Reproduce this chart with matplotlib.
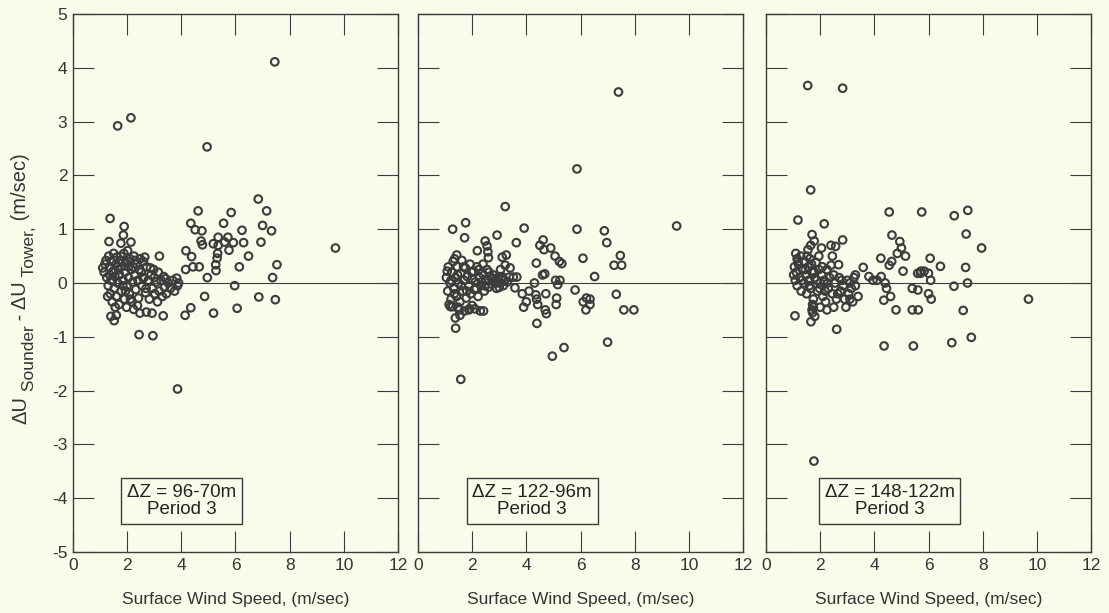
import matplotlib.pyplot as plt
from matplotlib.transforms import IdentityTransform

plt.rcParams['font.family'] = ['Liberation Sans', 'DejaVu Sans']
plt.rcParams['axes.unicode_minus'] = False

# ---------- data ----------
labels = ["\u0394Z = 96-70m\nPeriod 3", "\u0394Z = 122-96m\nPeriod 3", "\u0394Z = 148-122m\nPeriod 3"]
box_x = [4.0, 4.22, 4.57]

x1 = [7.45, 1.65, 2.14, 4.95, 9.69, 6.84, 7.15, 7.0, 7.33, 6.94, 7.53, 7.37, 6.86, 7.47,
      4.62, 4.35, 4.51, 4.76, 5.84, 5.56, 6.24, 5.72, 5.36, 4.73, 4.78, 5.18, 5.36, 5.60, 5.92, 6.30,
      5.76, 6.48, 4.17, 4.38, 4.43, 4.66, 4.16, 5.34, 5.32, 5.27, 5.28, 6.14, 4.96, 5.97, 4.86, 6.06,
      5.19, 4.35, 4.14, 3.83, 3.86,
      1.52, 1.40, 1.60, 2.24, 2.47, 2.71, 2.92, 3.33, 2.44, 2.95, 3.86,
      1.37, 1.89, 1.86, 1.33, 1.77, 2.14, 3.19,
      1.10, 1.15, 1.22, 1.25, 1.30, 1.32, 1.35, 1.38, 1.40, 1.42, 1.45, 1.48, 1.50, 1.52, 1.55, 1.58,
      1.60, 1.62, 1.65, 1.68, 1.70, 1.72, 1.75, 1.78, 1.80, 1.85, 1.88, 1.90, 1.92, 1.95, 2.00, 2.02,
      2.05, 2.08, 2.10, 2.15, 2.18, 2.20, 2.25, 2.28, 2.32, 2.35, 2.40, 2.42, 2.48, 2.52, 2.55, 2.60,
      2.62, 2.68, 2.72, 2.78, 2.82, 2.88, 2.92, 2.98, 3.02, 3.08, 3.12, 3.18, 3.25, 3.30, 3.38, 3.45,
      3.52, 3.60, 3.68, 3.35, 2.05, 1.98, 2.65, 2.38,
      1.18, 1.28, 1.36, 1.46, 1.56, 1.66, 1.76, 1.84, 1.94, 2.04, 2.12, 2.22, 2.30, 2.44, 2.58, 2.70,
      2.86, 3.00, 3.15, 3.42, 3.75, 3.90]
y1 = [4.11, 2.92, 3.07, 2.53, 0.65, 1.56, 1.34, 1.07, 0.97, 0.76, 0.34, 0.10, -0.26, -0.31,
      1.34, 1.11, 0.99, 0.97, 1.31, 1.11, 0.98, 0.85, 0.85, 0.78, 0.71, 0.73, 0.70, 0.76, 0.75, 0.75,
      0.61, 0.50, 0.60, 0.49, 0.30, 0.30, 0.25, 0.55, 0.46, 0.34, 0.23, 0.30, 0.10, -0.05, -0.25, -0.47,
      -0.56, -0.46, -0.60, 0.09, -0.05,
      -0.70, -0.62, -0.60, -0.49, -0.56, -0.54, -0.56, -0.61, -0.96, -0.98, -1.97,
      1.20, 1.05, 0.89, 0.77, 0.74, 0.76, 0.50,
      0.28, 0.20, 0.42, 0.10, -0.05, 0.50, 0.30, -0.20, 0.05, 0.40, -0.35, 0.22, 0.55, -0.10, 0.12, 0.35,
      -0.25, 0.48, 0.00, 0.25, -0.40, 0.15, 0.42, -0.15, 0.30, 0.05, 0.55, -0.30, 0.20, 0.38, -0.05, 0.60,
      0.10, -0.20, 0.45, 0.25, -0.35, 0.02, 0.50, 0.15, -0.12, 0.35, 0.05, -0.28, 0.45, 0.20, -0.05, 0.40,
      0.10, -0.18, 0.30, 0.05, -0.30, 0.15, -0.10, 0.25, -0.20, 0.02, -0.35, -0.15, 0.05, -0.25, -0.08, -0.20,
      0.00, -0.10, 0.05, 0.12, 0.30, -0.45, 0.48, -0.42,
      0.35, -0.25, 0.15, 0.05, -0.45, 0.30, 0.50, -0.05, -0.15, 0.40, -0.30, 0.30, 0.42, 0.25, 0.10, -0.10,
      0.28, 0.10, 0.20, 0.08, -0.15, 0.00]

x2 = [7.40, 5.87, 9.55, 3.22, 1.76, 1.28, 1.72, 3.92, 5.87, 6.88, 6.97, 2.92, 2.48, 2.55, 2.58, 2.60,
      2.19, 3.63, 4.62, 4.50, 4.65, 4.90, 5.06, 5.22, 5.31, 6.09, 7.24, 7.52, 7.47, 6.52, 7.32, 7.60,
      7.97, 4.37, 3.11, 3.22, 3.40, 4.68, 4.60, 3.37, 3.52, 3.65, 5.08, 5.24, 5.16, 5.80, 3.85, 4.10,
      3.58, 4.30, 4.35, 4.72, 4.42, 4.38, 5.10, 5.12, 6.10, 6.20, 6.22, 6.35, 6.35, 4.70, 1.39, 1.58,
      4.96, 5.39, 7.00, 4.39, 4.74, 1.38, 1.55, 1.72, 1.88, 2.10, 2.30, 2.42, 1.20, 1.28, 1.43, 3.26,
      3.90, 4.00,
      1.05, 1.10, 1.12, 1.18, 1.22, 1.25, 1.30, 1.32, 1.38, 1.42, 1.45, 1.50, 1.55, 1.58, 1.62, 1.65,
      1.70, 1.75, 1.78, 1.82, 1.88, 1.92, 1.95, 2.00, 2.05, 2.08, 2.12, 2.18, 2.22, 2.28, 2.32, 2.38,
      2.45, 2.50, 2.55, 2.60, 2.65, 2.72, 2.78, 2.85, 2.90, 2.95, 3.02, 3.10, 3.15, 3.20, 1.15, 1.48,
      2.00, 1.35, 2.40, 3.05,
      1.08, 1.22, 1.34, 1.46, 1.60, 1.68, 1.80, 1.98, 2.15, 2.25, 2.35, 2.48, 2.62, 2.75, 2.88, 3.00,
      3.12, 3.30, 1.52, 1.90]
y2 = [3.55, 2.12, 1.06, 1.42, 1.12, 1.00, 0.84, 1.02, 1.00, 0.97, 0.75, 0.89, 0.78, 0.69, 0.58, 0.47,
      0.60, 0.75, 0.80, 0.70, 0.62, 0.65, 0.50, 0.40, 0.36, 0.46, 0.33, 0.33, 0.51, 0.12, -0.21, -0.50,
      -0.50, 0.37, 0.48, 0.33, 0.28, 0.17, 0.15, 0.11, 0.11, 0.11, 0.05, 0.05, -0.03, -0.13, -0.20, -0.15,
      -0.09, 0.00, -0.22, -0.20, -0.40, -0.30, -0.40, -0.28, -0.35, -0.50, -0.28, -0.40, -0.30, -0.50, -0.84, -1.79,
      -1.36, -1.20, -1.10, -0.75, -0.57, -0.65, -0.60, -0.52, -0.50, -0.48, -0.52, -0.52, -0.44, -0.44, 0.52, 0.52,
      -0.45, -0.35,
      0.10, -0.15, 0.30, 0.00, -0.30, 0.20, 0.40, -0.10, 0.10, -0.25, 0.30, 0.00, -0.35, 0.18, 0.42, -0.15,
      0.05, 0.28, -0.28, 0.12, -0.05, 0.35, -0.20, 0.08, 0.22, -0.12, 0.02, 0.30, -0.25, 0.10, -0.05, 0.18,
      -0.15, 0.05, 0.25, -0.08, 0.12, -0.02, 0.15, 0.05, -0.10, 0.10, 0.00, 0.12, -0.05, 0.05, -0.40, -0.45,
      -0.42, 0.45, 0.35, 0.25,
      0.22, 0.05, -0.20, 0.15, -0.05, 0.30, -0.15, 0.20, -0.10, 0.25, 0.02, -0.05, 0.20, 0.08, 0.00, -0.08,
      0.08, 0.02, -0.50, -0.48]

x3 = [1.54, 2.83, 1.65, 1.18, 2.15, 4.55, 5.75, 6.95, 7.45, 7.39, 7.96, 1.70, 1.78, 1.65, 1.55, 2.83,
      2.57, 2.45, 2.68, 2.40, 2.25, 4.65, 4.94, 5.00, 4.85, 5.15, 4.24, 4.64, 6.06, 6.44, 5.06, 5.72,
      5.84, 6.00, 7.37, 6.08, 7.44, 6.94, 9.69, 7.28, 4.80, 5.40, 5.62, 5.61, 6.00, 6.10, 3.30, 3.59,
      3.80, 3.95, 4.10, 4.25, 4.40, 4.55, 4.45, 4.60, 4.35, 5.40, 5.60, 5.70,
      1.77, 4.36, 5.44, 6.86, 7.58, 2.61, 1.07, 1.66, 1.70, 1.75, 1.72, 2.50,
      1.10, 1.15, 1.05, 1.12, 1.08, 1.15, 1.20, 1.25, 1.28, 1.30, 1.35, 1.40, 1.42, 1.48, 1.50, 1.55,
      1.58, 1.62, 1.65, 1.70, 1.75, 1.80, 1.85, 1.90, 1.95, 2.00, 2.05, 2.10, 2.15, 2.20, 2.30, 2.35,
      2.45, 2.55, 2.60, 2.70, 2.75, 2.85, 2.90, 3.00, 3.05, 3.15, 3.20, 3.30, 3.40, 2.95, 3.10, 2.00,
      2.25, 1.95, 2.05, 2.40,
      1.02, 1.18, 1.32, 1.45, 1.52, 1.60, 1.68, 1.78, 1.88, 1.98, 2.08, 2.18, 2.28, 2.50, 2.65, 2.80,
      3.10, 3.25, 1.72, 1.80]
y3 = [3.67, 3.62, 1.73, 1.17, 1.10, 1.32, 1.32, 1.25, 1.35, 0.91, 0.65, 0.90, 0.78, 0.70, 0.62, 0.80,
      0.68, 0.50, 0.34, 0.33, 0.25, 0.89, 0.77, 0.65, 0.55, 0.50, 0.46, 0.40, 0.46, 0.31, 0.22, 0.22,
      0.22, 0.18, 0.29, 0.05, 0.00, -0.06, -0.30, -0.51, -0.50, -0.50, -0.50, -0.13, -0.20, -0.30, 0.15, 0.29,
      0.12, 0.05, 0.05, 0.12, 0.00, 0.33, -0.10, -0.25, -0.32, -0.10, 0.18, 0.18,
      -3.31, -1.17, -1.17, -1.11, -1.01, -0.86, -0.61, -0.72, -0.50, -0.45, -0.40, -0.45,
      0.55, 0.45, 0.30, 0.20, 0.05, -0.05, 0.35, 0.10, 0.50, -0.15, 0.25, 0.00, 0.40, 0.15, -0.20, 0.30,
      0.05, 0.45, -0.10, 0.20, -0.30, 0.10, 0.38, -0.15, 0.25, 0.00, 0.15, -0.25, 0.05, -0.35, -0.10, 0.10,
      -0.20, 0.00, -0.30, 0.10, -0.15, -0.05, -0.30, 0.05, -0.20, -0.10, -0.35, -0.05, -0.25, -0.45, -0.30, -0.45,
      -0.50, 0.50, 0.65, 0.70,
      0.15, 0.40, 0.05, 0.25, 0.50, -0.05, 0.35, 0.20, 0.05, -0.10, 0.30, -0.15, 0.00, 0.15, -0.20, 0.05,
      0.00, 0.10, -0.55, -0.62]

xs = [x1, x2, x3]
ys = [y1, y2, y3]

bg = "#fbfbec"
ink = "#3c3c3c"
txt = "#333333"

fig = plt.figure(figsize=(11.09, 6.13), dpi=100, facecolor=bg)
lefts = [0.0658, 0.3769, 0.6907]

for i in range(3):
    ax = fig.add_axes([lefts[i], 0.0995, 0.2931, 0.8777], facecolor=bg)
    ax.scatter(xs[i], ys[i], s=30, facecolors="none", edgecolors=ink, linewidths=1.5, zorder=3)
    ax.axhline(0, color=ink, lw=0.8, zorder=2)
    ax.set_xlim(0, 12)
    ax.set_ylim(-5, 5)
    ax.set_xticks(range(0, 13, 2))
    ax.set_yticks(range(-5, 6))
    ax.tick_params(direction="in", length=15, width=0.8, color=ink, top=True, right=True,
                   labelsize=12.5, labelcolor=txt, pad=4)
    for sp in ax.spines.values():
        sp.set_color(ink)
        sp.set_linewidth(1.0)
    if i > 0:
        ax.set_yticklabels([])
    ax.set_xlabel("Surface Wind Speed, (m/sec)", fontsize=12.5, color=txt, labelpad=14)
    ax.text(box_x[i], -4.05, labels[i], ha="center", va="center", fontsize=13.5, color="#222222",
            linespacing=1.0,
            bbox=dict(boxstyle="square,pad=0.3", facecolor=bg, edgecolor=ink, linewidth=1.0))

# y label built from pieces so the subscripts stay nearly full size
pieces = [("\u0394U", 14.5, 0), (" Sounder", 12.5, 8), (" - \u0394U", 14.5, 0), (" Tower,", 12.5, 8), (" (m/sec)", 14.5, 0)]
renderer = fig.canvas.get_renderer()
objs = []
for s, size, dx in pieces:
    t = fig.text(0, 0, s, rotation=90, rotation_mode="anchor", ha="left", va="baseline",
                 fontsize=size, color=txt, transform=IdentityTransform())
    objs.append((t, dx, t.get_window_extent(renderer).height))
total = sum(h for _, _, h in objs)
y = 613 - 289 - total / 2
for t, dx, h in objs:
    t.set_position((26 + dx, y))
    y += h

fig.savefig("out.png", dpi=100, facecolor=bg)
